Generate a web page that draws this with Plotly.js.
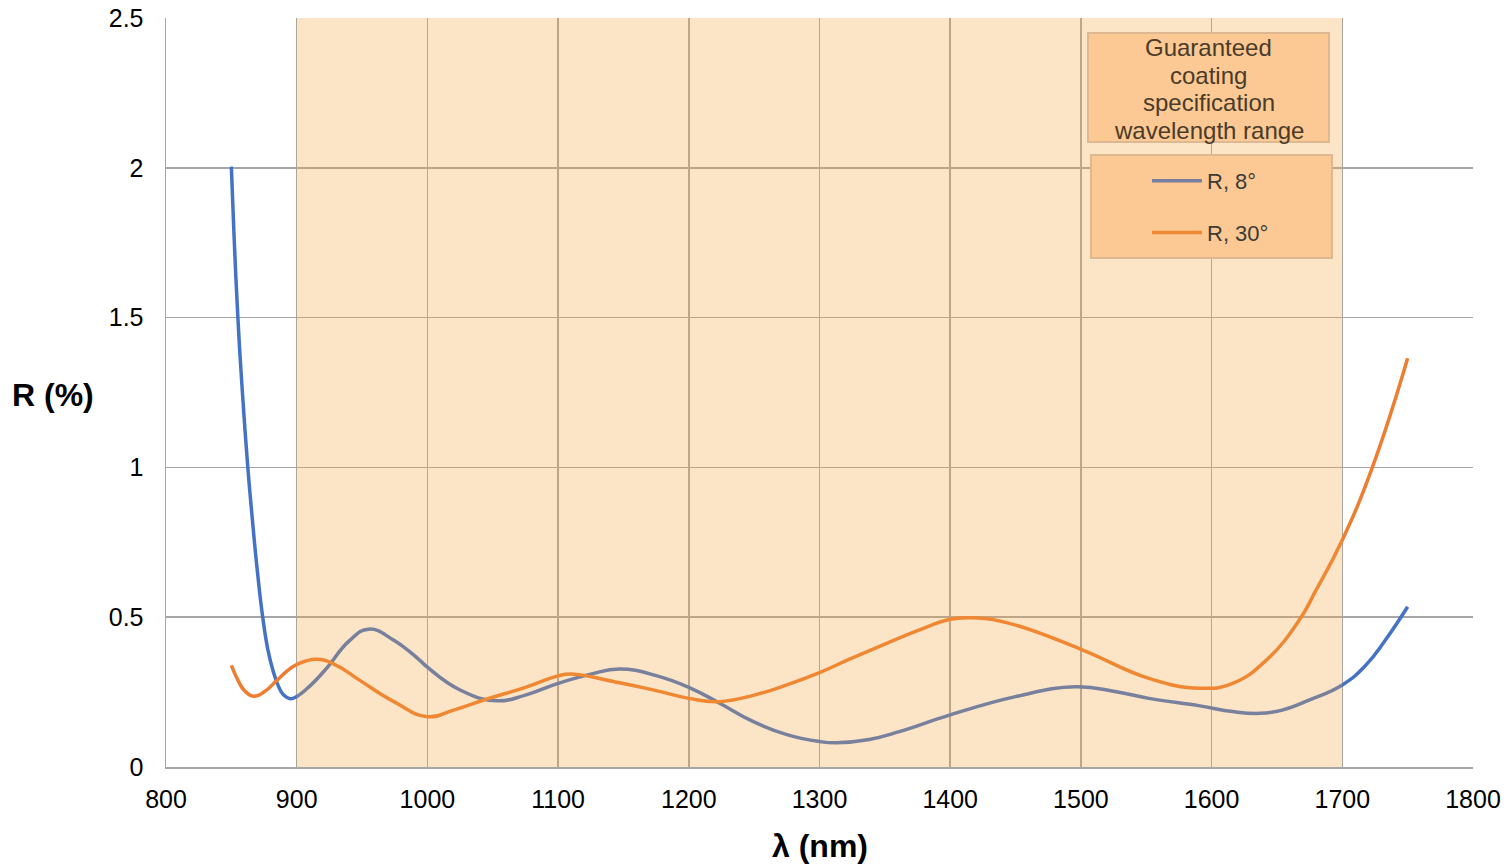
<!DOCTYPE html>
<html>
<head>
<meta charset="utf-8">
<script src="https://cdn.plot.ly/plotly-3.0.1.min.js"></script>
<style>
  html, body { margin: 0; padding: 0; background: #ffffff; }
  #chart { width: 1509px; height: 864px; }
</style>
</head>
<body>
<div id="chart"></div>
<script>
// ---- data ----
const wavelength8 = [850, 852, 855, 858, 862.6, 866, 870, 874, 878, 882, 886, 890, 895, 900, 910, 923, 940, 955, 974, 994, 1000, 1025, 1053, 1075, 1100, 1125, 1147, 1175, 1200, 1224, 1249, 1275, 1300, 1313, 1338, 1361, 1400, 1450, 1496, 1527, 1552, 1591, 1616, 1637, 1654, 1675, 1700, 1718, 1733, 1750];
const reflect8   = [2.004, 1.78, 1.50, 1.28, 1.00, 0.83, 0.65, 0.50, 0.39, 0.32, 0.27, 0.24, 0.228, 0.235, 0.27, 0.33, 0.42, 0.46, 0.424, 0.357, 0.333, 0.257, 0.221, 0.24, 0.279, 0.31, 0.327, 0.305, 0.266, 0.212, 0.152, 0.108, 0.085, 0.081, 0.092, 0.118, 0.174, 0.235, 0.268, 0.251, 0.229, 0.204, 0.185, 0.179, 0.19, 0.224, 0.274, 0.34, 0.424, 0.535];

const wavelength30 = [850, 855, 860, 866.8, 875, 885, 893, 900, 915, 930, 948, 974, 1000, 1020, 1045, 1075, 1100, 1110, 1147, 1175, 1200, 1223, 1250, 1275, 1300, 1323, 1350, 1375, 1400, 1416, 1443, 1500, 1552, 1591, 1616, 1642, 1667, 1680, 1700, 1723, 1750];
const reflect30   = [0.339, 0.29, 0.255, 0.236, 0.25, 0.29, 0.322, 0.342, 0.36, 0.34, 0.29, 0.219, 0.168, 0.19, 0.226, 0.266, 0.304, 0.31, 0.281, 0.255, 0.229, 0.218, 0.24, 0.274, 0.315, 0.36, 0.41, 0.455, 0.493, 0.498, 0.482, 0.393, 0.296, 0.263, 0.279, 0.357, 0.49, 0.591, 0.758, 1.0, 1.364];

const seriesNames = ["R, 8°", "R, 30°"];
const specRange = [900, 1700];
const xTicks = [800, 900, 1000, 1100, 1200, 1300, 1400, 1500, 1600, 1700, 1800];
const yTicks = [0, 0.5, 1, 1.5, 2, 2.5];
const yTickLabels = ["0", "0.5", "1", "1.5", "2", "2.5"];
const specLabelLines = ["Guaranteed", "coating", "specification", "wavelength range"];

// ---- styling ----
const BLUE = "#4472C4", ORANGE = "#ED7D31";
const BLUE_SHADED = "#7780A0", ORANGE_SHADED = "#EF8834";
const FONT = "Liberation Sans, Arial, sans-serif";
const BOX_FILL = "#FCC994", BOX_LINE = "#DDB892";

const traces = [
  { x: wavelength8, y: reflect8, type: "scatter", mode: "lines", name: seriesNames[0],
    line: { color: BLUE, width: 3.5, shape: "spline", smoothing: 1.3 }, showlegend: false, hoverinfo: "x+y" },
  { x: wavelength30, y: reflect30, type: "scatter", mode: "lines", name: seriesNames[1],
    line: { color: ORANGE, width: 3.5, shape: "spline", smoothing: 1.3 }, showlegend: false, hoverinfo: "x+y" },
  // legend entries (colours as they appear under the shaded band)
  { x: [null], y: [null], type: "scatter", mode: "lines", name: seriesNames[0], legendgroup: "a",
    line: { color: BLUE_SHADED, width: 3.5 }, hoverinfo: "skip" },
  { x: [null], y: [null], type: "scatter", mode: "lines", name: seriesNames[1], legendgroup: "b",
    line: { color: ORANGE_SHADED, width: 3.5 }, hoverinfo: "skip" }
];

const W = 1509, H = 864;
const L = 166, R = 36, T = 18, B = 97;
const pw = W - L - R, ph = H - T - B;
const px = v => (v - L) / pw;          // page x -> paper x
const py = v => (H - B - v) / ph;      // page y -> paper y

const specLineY = [47, 75, 102, 130];
const annotations = specLabelLines.map((t, i) => ({
  text: t, xref: "paper", yref: "paper", x: px(1208.5), y: py(specLineY[i]),
  xanchor: "center", yanchor: "middle", showarrow: false,
  font: { family: FONT, size: 24, color: "#4a3b2a" }
}));
annotations.push(
  { text: "<b>R (%)</b>", xref: "paper", yref: "paper", x: px(53), y: py(395),
    xanchor: "center", yanchor: "middle", showarrow: false,
    font: { family: FONT, size: 32, color: "#000" } },
  { text: "<b>λ (nm)</b>", xref: "paper", yref: "paper", x: px(820), y: py(846),
    xanchor: "center", yanchor: "middle", showarrow: false,
    font: { family: FONT, size: 32, color: "#000" } }
);

const layout = {
  width: W, height: H,
  margin: { l: L, r: R, t: T, b: B, pad: 0 },
  paper_bgcolor: "#ffffff", plot_bgcolor: "#ffffff",
  font: { family: FONT, size: 25, color: "#000000" },
  xaxis: {
    range: [800, 1800], tickvals: xTicks, ticktext: xTicks.map(String),
    showgrid: true, gridcolor: "#A6A6A6", gridwidth: 1.5,
    zeroline: false, showline: true, linecolor: "#A6A6A6", linewidth: 1.5,
    ticks: "", ticklabelstandoff: 9, tickfont: { family: FONT, size: 25, color: "#000" },
    fixedrange: true
  },
  yaxis: {
    range: [0, 2.5], tickvals: yTicks, ticktext: yTickLabels,
    showgrid: true, gridcolor: "#A6A6A6", gridwidth: 1.5,
    zeroline: false, showline: true, linecolor: "#A6A6A6", linewidth: 1.5,
    ticks: "", ticklabelstandoff: 16,
    tickfont: { family: FONT, size: 25, color: "#000" },
    fixedrange: true
  },
  showlegend: true,
  legend: {
    x: px(1147), y: py(160), xanchor: "left", yanchor: "top",
    bgcolor: "rgba(0,0,0,0)", borderwidth: 0,
    font: { family: FONT, size: 22, color: "#3d3a36" },
    traceorder: "grouped", tracegroupgap: 20, itemwidth: 50
  },
  shapes: [
    { type: "rect", xref: "x", yref: "paper", x0: specRange[0], x1: specRange[1], y0: 0, y1: 1,
      fillcolor: "rgba(245,162,58,0.29)", line: { width: 0 }, layer: "above" },
    { type: "rect", xref: "paper", yref: "paper", x0: px(1088), x1: px(1329), y0: py(142), y1: py(33),
      fillcolor: BOX_FILL, line: { color: BOX_LINE, width: 2 }, layer: "above" },
    { type: "rect", xref: "paper", yref: "paper", x0: px(1091), x1: px(1332), y0: py(258), y1: py(155),
      fillcolor: BOX_FILL, line: { color: BOX_LINE, width: 2 }, layer: "above" }
  ],
  annotations: annotations
};

Plotly.newPlot("chart", traces, layout, { staticPlot: true, displayModeBar: false });
</script>
</body>
</html>
